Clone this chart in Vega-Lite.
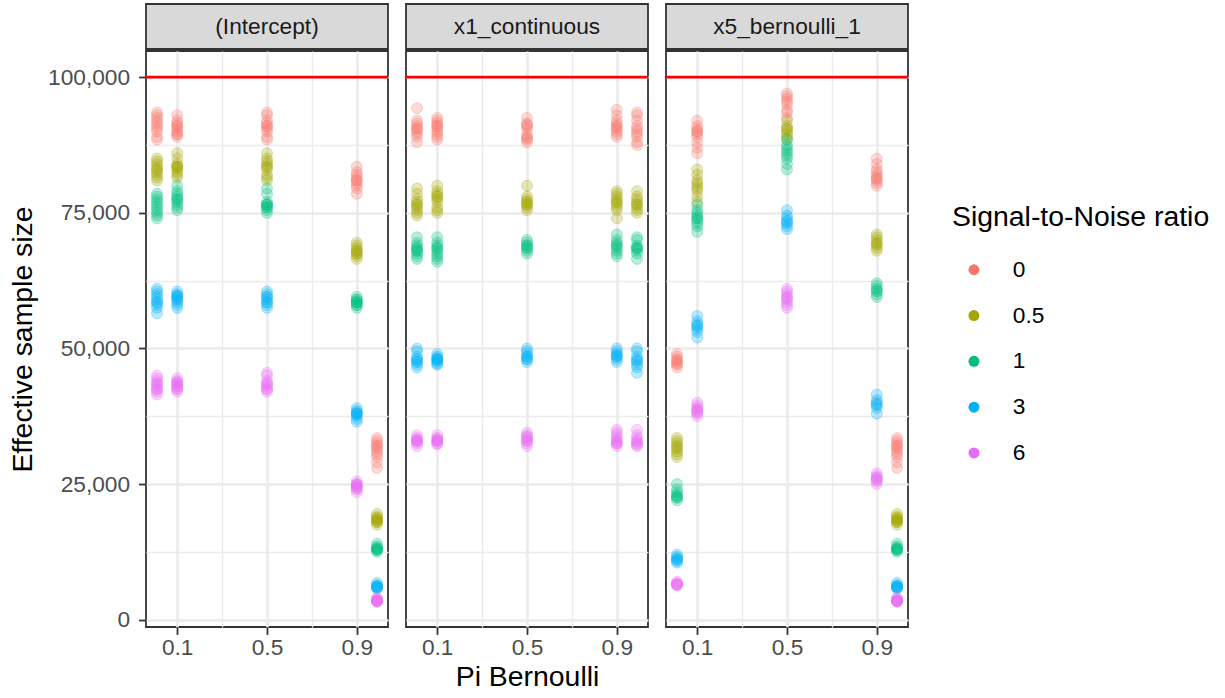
{
  "$schema": "https://vega.github.io/schema/vega-lite/v6.json",
  "background": "white",
  "padding": {"left": 7, "top": 3, "right": 5, "bottom": 3},
  "config": {
    "font": "Liberation Sans",
    "view": {"stroke": "#333333", "strokeWidth": 1.8},
    "axis": {
      "domain": false,
      "gridColor": "#EBEBEB",
      "tickColor": "#333333",
      "tickWidth": 1.8,
      "tickSize": 7.4,
      "labelFont": "Liberation Sans",
      "labelFontSize": 22.7,
      "labelColor": "#4D4D4D",
      "labelOverlap": false,
      "titleFont": "Liberation Sans",
      "titleFontSize": 28.4,
      "titleFontWeight": "normal",
      "titleColor": "#000000"
    },
    "axisX": {"labelPadding": 2.5},
    "axisY": {"labelPadding": 9}
  },
  "resolve": {"scale": {"color": "shared", "stroke": "shared"}, "legend": {"color": "shared"}},
  "datasets": {
    "intercept": [
      {"pi":0.01,"snr":0,"ess":93500},{"pi":0.01,"snr":0,"ess":93000},{"pi":0.01,"snr":0,"ess":92500},{"pi":0.01,"snr":0,"ess":92000},{"pi":0.01,"snr":0,"ess":91500},{"pi":0.01,"snr":0,"ess":91000},{"pi":0.01,"snr":0,"ess":90500},{"pi":0.01,"snr":0,"ess":90000},{"pi":0.01,"snr":0,"ess":89000},{"pi":0.01,"snr":0,"ess":88500},
      {"pi":0.01,"snr":0.5,"ess":85000},{"pi":0.01,"snr":0.5,"ess":84500},{"pi":0.01,"snr":0.5,"ess":84000},{"pi":0.01,"snr":0.5,"ess":83500},{"pi":0.01,"snr":0.5,"ess":83000},{"pi":0.01,"snr":0.5,"ess":83000},{"pi":0.01,"snr":0.5,"ess":82500},{"pi":0.01,"snr":0.5,"ess":82000},{"pi":0.01,"snr":0.5,"ess":81500},{"pi":0.01,"snr":0.5,"ess":81000},
      {"pi":0.01,"snr":1,"ess":78500},{"pi":0.01,"snr":1,"ess":78000},{"pi":0.01,"snr":1,"ess":77500},{"pi":0.01,"snr":1,"ess":77000},{"pi":0.01,"snr":1,"ess":76500},{"pi":0.01,"snr":1,"ess":76000},{"pi":0.01,"snr":1,"ess":75500},{"pi":0.01,"snr":1,"ess":75000},{"pi":0.01,"snr":1,"ess":74500},{"pi":0.01,"snr":1,"ess":74000},
      {"pi":0.01,"snr":3,"ess":61000},{"pi":0.01,"snr":3,"ess":60500},{"pi":0.01,"snr":3,"ess":60000},{"pi":0.01,"snr":3,"ess":59500},{"pi":0.01,"snr":3,"ess":59000},{"pi":0.01,"snr":3,"ess":58500},{"pi":0.01,"snr":3,"ess":58500},{"pi":0.01,"snr":3,"ess":58000},{"pi":0.01,"snr":3,"ess":57500},{"pi":0.01,"snr":3,"ess":56500},
      {"pi":0.01,"snr":6,"ess":45000},{"pi":0.01,"snr":6,"ess":44500},{"pi":0.01,"snr":6,"ess":44000},{"pi":0.01,"snr":6,"ess":43500},{"pi":0.01,"snr":6,"ess":43500},{"pi":0.01,"snr":6,"ess":43000},{"pi":0.01,"snr":6,"ess":42500},{"pi":0.01,"snr":6,"ess":42500},{"pi":0.01,"snr":6,"ess":42000},{"pi":0.01,"snr":6,"ess":41500},
      {"pi":0.1,"snr":0,"ess":93000},{"pi":0.1,"snr":0,"ess":92000},{"pi":0.1,"snr":0,"ess":91500},{"pi":0.1,"snr":0,"ess":91000},{"pi":0.1,"snr":0,"ess":91000},{"pi":0.1,"snr":0,"ess":90500},{"pi":0.1,"snr":0,"ess":90000},{"pi":0.1,"snr":0,"ess":89500},{"pi":0.1,"snr":0,"ess":89500},{"pi":0.1,"snr":0,"ess":89000},
      {"pi":0.1,"snr":0.5,"ess":86000},{"pi":0.1,"snr":0.5,"ess":85000},{"pi":0.1,"snr":0.5,"ess":84000},{"pi":0.1,"snr":0.5,"ess":83500},{"pi":0.1,"snr":0.5,"ess":83500},{"pi":0.1,"snr":0.5,"ess":83500},{"pi":0.1,"snr":0.5,"ess":83000},{"pi":0.1,"snr":0.5,"ess":82500},{"pi":0.1,"snr":0.5,"ess":82000},{"pi":0.1,"snr":0.5,"ess":81500},
      {"pi":0.1,"snr":1,"ess":80000},{"pi":0.1,"snr":1,"ess":79000},{"pi":0.1,"snr":1,"ess":78500},{"pi":0.1,"snr":1,"ess":78000},{"pi":0.1,"snr":1,"ess":77500},{"pi":0.1,"snr":1,"ess":77500},{"pi":0.1,"snr":1,"ess":77000},{"pi":0.1,"snr":1,"ess":76500},{"pi":0.1,"snr":1,"ess":76000},{"pi":0.1,"snr":1,"ess":75500},
      {"pi":0.1,"snr":3,"ess":60500},{"pi":0.1,"snr":3,"ess":60000},{"pi":0.1,"snr":3,"ess":59800},{"pi":0.1,"snr":3,"ess":59500},{"pi":0.1,"snr":3,"ess":59500},{"pi":0.1,"snr":3,"ess":59000},{"pi":0.1,"snr":3,"ess":59000},{"pi":0.1,"snr":3,"ess":58500},{"pi":0.1,"snr":3,"ess":58000},{"pi":0.1,"snr":3,"ess":57500},
      {"pi":0.1,"snr":6,"ess":44500},{"pi":0.1,"snr":6,"ess":44000},{"pi":0.1,"snr":6,"ess":43800},{"pi":0.1,"snr":6,"ess":43500},{"pi":0.1,"snr":6,"ess":43500},{"pi":0.1,"snr":6,"ess":43000},{"pi":0.1,"snr":6,"ess":43000},{"pi":0.1,"snr":6,"ess":42500},{"pi":0.1,"snr":6,"ess":42500},{"pi":0.1,"snr":6,"ess":42000},
      {"pi":0.5,"snr":0,"ess":93500},{"pi":0.5,"snr":0,"ess":93000},{"pi":0.5,"snr":0,"ess":92000},{"pi":0.5,"snr":0,"ess":91500},{"pi":0.5,"snr":0,"ess":91000},{"pi":0.5,"snr":0,"ess":91000},{"pi":0.5,"snr":0,"ess":90500},{"pi":0.5,"snr":0,"ess":90000},{"pi":0.5,"snr":0,"ess":89000},{"pi":0.5,"snr":0,"ess":88500},
      {"pi":0.5,"snr":0.5,"ess":86000},{"pi":0.5,"snr":0.5,"ess":85000},{"pi":0.5,"snr":0.5,"ess":84500},{"pi":0.5,"snr":0.5,"ess":84000},{"pi":0.5,"snr":0.5,"ess":83500},{"pi":0.5,"snr":0.5,"ess":83500},{"pi":0.5,"snr":0.5,"ess":83000},{"pi":0.5,"snr":0.5,"ess":82000},{"pi":0.5,"snr":0.5,"ess":81500},{"pi":0.5,"snr":0.5,"ess":81000},
      {"pi":0.5,"snr":1,"ess":79500},{"pi":0.5,"snr":1,"ess":78500},{"pi":0.5,"snr":1,"ess":77000},{"pi":0.5,"snr":1,"ess":76500},{"pi":0.5,"snr":1,"ess":76500},{"pi":0.5,"snr":1,"ess":76500},{"pi":0.5,"snr":1,"ess":76000},{"pi":0.5,"snr":1,"ess":76000},{"pi":0.5,"snr":1,"ess":75500},{"pi":0.5,"snr":1,"ess":75000},
      {"pi":0.5,"snr":3,"ess":60500},{"pi":0.5,"snr":3,"ess":60000},{"pi":0.5,"snr":3,"ess":59500},{"pi":0.5,"snr":3,"ess":59500},{"pi":0.5,"snr":3,"ess":59000},{"pi":0.5,"snr":3,"ess":58500},{"pi":0.5,"snr":3,"ess":58500},{"pi":0.5,"snr":3,"ess":58000},{"pi":0.5,"snr":3,"ess":57500},
      {"pi":0.5,"snr":6,"ess":45500},{"pi":0.5,"snr":6,"ess":45000},{"pi":0.5,"snr":6,"ess":44000},{"pi":0.5,"snr":6,"ess":43500},{"pi":0.5,"snr":6,"ess":43500},{"pi":0.5,"snr":6,"ess":43000},{"pi":0.5,"snr":6,"ess":42500},{"pi":0.5,"snr":6,"ess":42500},{"pi":0.5,"snr":6,"ess":42000},
      {"pi":0.9,"snr":0,"ess":83500},{"pi":0.9,"snr":0,"ess":82500},{"pi":0.9,"snr":0,"ess":82000},{"pi":0.9,"snr":0,"ess":81500},{"pi":0.9,"snr":0,"ess":81000},{"pi":0.9,"snr":0,"ess":81000},{"pi":0.9,"snr":0,"ess":80500},{"pi":0.9,"snr":0,"ess":80000},{"pi":0.9,"snr":0,"ess":79500},{"pi":0.9,"snr":0,"ess":78500},
      {"pi":0.9,"snr":0.5,"ess":69500},{"pi":0.9,"snr":0.5,"ess":69000},{"pi":0.9,"snr":0.5,"ess":68500},{"pi":0.9,"snr":0.5,"ess":68000},{"pi":0.9,"snr":0.5,"ess":68000},{"pi":0.9,"snr":0.5,"ess":67500},{"pi":0.9,"snr":0.5,"ess":67500},{"pi":0.9,"snr":0.5,"ess":67000},{"pi":0.9,"snr":0.5,"ess":66500},
      {"pi":0.9,"snr":1,"ess":59500},{"pi":0.9,"snr":1,"ess":59000},{"pi":0.9,"snr":1,"ess":59000},{"pi":0.9,"snr":1,"ess":58500},{"pi":0.9,"snr":1,"ess":58500},{"pi":0.9,"snr":1,"ess":58500},{"pi":0.9,"snr":1,"ess":58000},{"pi":0.9,"snr":1,"ess":58000},{"pi":0.9,"snr":1,"ess":57500},
      {"pi":0.9,"snr":3,"ess":39000},{"pi":0.9,"snr":3,"ess":38500},{"pi":0.9,"snr":3,"ess":38200},{"pi":0.9,"snr":3,"ess":38000},{"pi":0.9,"snr":3,"ess":38000},{"pi":0.9,"snr":3,"ess":37800},{"pi":0.9,"snr":3,"ess":37500},{"pi":0.9,"snr":3,"ess":37000},{"pi":0.9,"snr":3,"ess":36500},
      {"pi":0.9,"snr":6,"ess":25500},{"pi":0.9,"snr":6,"ess":25000},{"pi":0.9,"snr":6,"ess":25000},{"pi":0.9,"snr":6,"ess":24800},{"pi":0.9,"snr":6,"ess":24500},{"pi":0.9,"snr":6,"ess":24500},{"pi":0.9,"snr":6,"ess":24200},{"pi":0.9,"snr":6,"ess":24000},{"pi":0.9,"snr":6,"ess":23500},
      {"pi":0.99,"snr":0,"ess":33500},{"pi":0.99,"snr":0,"ess":33000},{"pi":0.99,"snr":0,"ess":32500},{"pi":0.99,"snr":0,"ess":32000},{"pi":0.99,"snr":0,"ess":32000},{"pi":0.99,"snr":0,"ess":31500},{"pi":0.99,"snr":0,"ess":31000},{"pi":0.99,"snr":0,"ess":30500},{"pi":0.99,"snr":0,"ess":30000},{"pi":0.99,"snr":0,"ess":29000},{"pi":0.99,"snr":0,"ess":28000},
      {"pi":0.99,"snr":0.5,"ess":19500},{"pi":0.99,"snr":0.5,"ess":19000},{"pi":0.99,"snr":0.5,"ess":18800},{"pi":0.99,"snr":0.5,"ess":18500},{"pi":0.99,"snr":0.5,"ess":18500},{"pi":0.99,"snr":0.5,"ess":18200},{"pi":0.99,"snr":0.5,"ess":18000},{"pi":0.99,"snr":0.5,"ess":18000},{"pi":0.99,"snr":0.5,"ess":17500},
      {"pi":0.99,"snr":1,"ess":14000},{"pi":0.99,"snr":1,"ess":13500},{"pi":0.99,"snr":1,"ess":13300},{"pi":0.99,"snr":1,"ess":13000},{"pi":0.99,"snr":1,"ess":13000},{"pi":0.99,"snr":1,"ess":13000},{"pi":0.99,"snr":1,"ess":12800},{"pi":0.99,"snr":1,"ess":12500},
      {"pi":0.99,"snr":3,"ess":6800},{"pi":0.99,"snr":3,"ess":6400},{"pi":0.99,"snr":3,"ess":6200},{"pi":0.99,"snr":3,"ess":6100},{"pi":0.99,"snr":3,"ess":6000},{"pi":0.99,"snr":3,"ess":6000},{"pi":0.99,"snr":3,"ess":5900},{"pi":0.99,"snr":3,"ess":5700},
      {"pi":0.99,"snr":6,"ess":4000},{"pi":0.99,"snr":6,"ess":3800},{"pi":0.99,"snr":6,"ess":3600},{"pi":0.99,"snr":6,"ess":3500},{"pi":0.99,"snr":6,"ess":3500},{"pi":0.99,"snr":6,"ess":3400},{"pi":0.99,"snr":6,"ess":3400},{"pi":0.99,"snr":6,"ess":3300}
    ],
    "x1": [
      {"pi":0.01,"snr":0,"ess":94300},{"pi":0.01,"snr":0,"ess":92000},{"pi":0.01,"snr":0,"ess":91500},{"pi":0.01,"snr":0,"ess":91000},{"pi":0.01,"snr":0,"ess":90500},{"pi":0.01,"snr":0,"ess":90500},{"pi":0.01,"snr":0,"ess":90000},{"pi":0.01,"snr":0,"ess":89500},{"pi":0.01,"snr":0,"ess":89000},{"pi":0.01,"snr":0,"ess":88000},
      {"pi":0.01,"snr":0.5,"ess":79500},{"pi":0.01,"snr":0.5,"ess":78500},{"pi":0.01,"snr":0.5,"ess":77500},{"pi":0.01,"snr":0.5,"ess":77000},{"pi":0.01,"snr":0.5,"ess":76500},{"pi":0.01,"snr":0.5,"ess":76500},{"pi":0.01,"snr":0.5,"ess":76000},{"pi":0.01,"snr":0.5,"ess":75500},{"pi":0.01,"snr":0.5,"ess":75000},{"pi":0.01,"snr":0.5,"ess":74500},
      {"pi":0.01,"snr":1,"ess":70500},{"pi":0.01,"snr":1,"ess":69500},{"pi":0.01,"snr":1,"ess":69000},{"pi":0.01,"snr":1,"ess":68500},{"pi":0.01,"snr":1,"ess":68500},{"pi":0.01,"snr":1,"ess":68000},{"pi":0.01,"snr":1,"ess":68000},{"pi":0.01,"snr":1,"ess":67500},{"pi":0.01,"snr":1,"ess":67000},{"pi":0.01,"snr":1,"ess":66500},
      {"pi":0.01,"snr":3,"ess":50000},{"pi":0.01,"snr":3,"ess":49500},{"pi":0.01,"snr":3,"ess":48500},{"pi":0.01,"snr":3,"ess":48000},{"pi":0.01,"snr":3,"ess":48000},{"pi":0.01,"snr":3,"ess":47500},{"pi":0.01,"snr":3,"ess":47500},{"pi":0.01,"snr":3,"ess":47000},{"pi":0.01,"snr":3,"ess":46500},
      {"pi":0.01,"snr":6,"ess":34000},{"pi":0.01,"snr":6,"ess":33500},{"pi":0.01,"snr":6,"ess":33200},{"pi":0.01,"snr":6,"ess":33000},{"pi":0.01,"snr":6,"ess":33000},{"pi":0.01,"snr":6,"ess":32800},{"pi":0.01,"snr":6,"ess":32500},{"pi":0.01,"snr":6,"ess":32000},
      {"pi":0.1,"snr":0,"ess":92500},{"pi":0.1,"snr":0,"ess":92000},{"pi":0.1,"snr":0,"ess":91500},{"pi":0.1,"snr":0,"ess":91000},{"pi":0.1,"snr":0,"ess":91000},{"pi":0.1,"snr":0,"ess":90500},{"pi":0.1,"snr":0,"ess":90000},{"pi":0.1,"snr":0,"ess":89500},{"pi":0.1,"snr":0,"ess":89000},{"pi":0.1,"snr":0,"ess":88500},
      {"pi":0.1,"snr":0.5,"ess":80000},{"pi":0.1,"snr":0.5,"ess":79000},{"pi":0.1,"snr":0.5,"ess":78500},{"pi":0.1,"snr":0.5,"ess":78000},{"pi":0.1,"snr":0.5,"ess":78000},{"pi":0.1,"snr":0.5,"ess":77500},{"pi":0.1,"snr":0.5,"ess":77000},{"pi":0.1,"snr":0.5,"ess":76000},{"pi":0.1,"snr":0.5,"ess":75500},{"pi":0.1,"snr":0.5,"ess":75000},
      {"pi":0.1,"snr":1,"ess":70500},{"pi":0.1,"snr":1,"ess":69500},{"pi":0.1,"snr":1,"ess":69000},{"pi":0.1,"snr":1,"ess":68500},{"pi":0.1,"snr":1,"ess":68500},{"pi":0.1,"snr":1,"ess":68000},{"pi":0.1,"snr":1,"ess":67500},{"pi":0.1,"snr":1,"ess":67000},{"pi":0.1,"snr":1,"ess":66500},{"pi":0.1,"snr":1,"ess":66000},
      {"pi":0.1,"snr":3,"ess":49000},{"pi":0.1,"snr":3,"ess":48500},{"pi":0.1,"snr":3,"ess":48200},{"pi":0.1,"snr":3,"ess":48000},{"pi":0.1,"snr":3,"ess":48000},{"pi":0.1,"snr":3,"ess":47800},{"pi":0.1,"snr":3,"ess":47500},{"pi":0.1,"snr":3,"ess":47200},{"pi":0.1,"snr":3,"ess":47000},
      {"pi":0.1,"snr":6,"ess":34000},{"pi":0.1,"snr":6,"ess":33500},{"pi":0.1,"snr":6,"ess":33300},{"pi":0.1,"snr":6,"ess":33000},{"pi":0.1,"snr":6,"ess":33000},{"pi":0.1,"snr":6,"ess":32800},{"pi":0.1,"snr":6,"ess":32500},{"pi":0.1,"snr":6,"ess":32300},
      {"pi":0.5,"snr":0,"ess":92500},{"pi":0.5,"snr":0,"ess":91500},{"pi":0.5,"snr":0,"ess":91200},{"pi":0.5,"snr":0,"ess":91000},{"pi":0.5,"snr":0,"ess":90500},{"pi":0.5,"snr":0,"ess":89500},{"pi":0.5,"snr":0,"ess":89000},{"pi":0.5,"snr":0,"ess":88800},{"pi":0.5,"snr":0,"ess":88500},{"pi":0.5,"snr":0,"ess":88000},
      {"pi":0.5,"snr":0.5,"ess":80000},{"pi":0.5,"snr":0.5,"ess":78000},{"pi":0.5,"snr":0.5,"ess":77500},{"pi":0.5,"snr":0.5,"ess":77000},{"pi":0.5,"snr":0.5,"ess":77000},{"pi":0.5,"snr":0.5,"ess":76500},{"pi":0.5,"snr":0.5,"ess":76500},{"pi":0.5,"snr":0.5,"ess":76000},{"pi":0.5,"snr":0.5,"ess":75500},
      {"pi":0.5,"snr":1,"ess":70000},{"pi":0.5,"snr":1,"ess":69500},{"pi":0.5,"snr":1,"ess":69000},{"pi":0.5,"snr":1,"ess":69000},{"pi":0.5,"snr":1,"ess":68500},{"pi":0.5,"snr":1,"ess":68500},{"pi":0.5,"snr":1,"ess":68000},{"pi":0.5,"snr":1,"ess":67500},
      {"pi":0.5,"snr":3,"ess":50000},{"pi":0.5,"snr":3,"ess":49500},{"pi":0.5,"snr":3,"ess":49000},{"pi":0.5,"snr":3,"ess":48500},{"pi":0.5,"snr":3,"ess":48500},{"pi":0.5,"snr":3,"ess":48000},{"pi":0.5,"snr":3,"ess":48000},{"pi":0.5,"snr":3,"ess":47500},
      {"pi":0.5,"snr":6,"ess":34500},{"pi":0.5,"snr":6,"ess":34000},{"pi":0.5,"snr":6,"ess":33700},{"pi":0.5,"snr":6,"ess":33500},{"pi":0.5,"snr":6,"ess":33000},{"pi":0.5,"snr":6,"ess":33000},{"pi":0.5,"snr":6,"ess":32500},{"pi":0.5,"snr":6,"ess":32000},
      {"pi":0.9,"snr":0,"ess":94000},{"pi":0.9,"snr":0,"ess":93000},{"pi":0.9,"snr":0,"ess":92000},{"pi":0.9,"snr":0,"ess":91500},{"pi":0.9,"snr":0,"ess":91000},{"pi":0.9,"snr":0,"ess":90800},{"pi":0.9,"snr":0,"ess":90500},{"pi":0.9,"snr":0,"ess":90000},{"pi":0.9,"snr":0,"ess":89500},{"pi":0.9,"snr":0,"ess":89000},
      {"pi":0.9,"snr":0.5,"ess":79000},{"pi":0.9,"snr":0.5,"ess":78500},{"pi":0.9,"snr":0.5,"ess":78000},{"pi":0.9,"snr":0.5,"ess":77500},{"pi":0.9,"snr":0.5,"ess":77000},{"pi":0.9,"snr":0.5,"ess":77000},{"pi":0.9,"snr":0.5,"ess":76500},{"pi":0.9,"snr":0.5,"ess":76000},{"pi":0.9,"snr":0.5,"ess":75500},{"pi":0.9,"snr":0.5,"ess":74000},
      {"pi":0.9,"snr":1,"ess":71000},{"pi":0.9,"snr":1,"ess":70000},{"pi":0.9,"snr":1,"ess":69500},{"pi":0.9,"snr":1,"ess":69000},{"pi":0.9,"snr":1,"ess":69000},{"pi":0.9,"snr":1,"ess":68500},{"pi":0.9,"snr":1,"ess":68000},{"pi":0.9,"snr":1,"ess":67500},{"pi":0.9,"snr":1,"ess":67000},
      {"pi":0.9,"snr":3,"ess":50000},{"pi":0.9,"snr":3,"ess":49500},{"pi":0.9,"snr":3,"ess":49000},{"pi":0.9,"snr":3,"ess":48800},{"pi":0.9,"snr":3,"ess":48500},{"pi":0.9,"snr":3,"ess":48500},{"pi":0.9,"snr":3,"ess":48000},{"pi":0.9,"snr":3,"ess":47500},
      {"pi":0.9,"snr":6,"ess":35000},{"pi":0.9,"snr":6,"ess":34500},{"pi":0.9,"snr":6,"ess":34000},{"pi":0.9,"snr":6,"ess":33500},{"pi":0.9,"snr":6,"ess":33000},{"pi":0.9,"snr":6,"ess":32800},{"pi":0.9,"snr":6,"ess":32500},{"pi":0.9,"snr":6,"ess":32500},{"pi":0.9,"snr":6,"ess":32000},
      {"pi":0.99,"snr":0,"ess":93500},{"pi":0.99,"snr":0,"ess":93000},{"pi":0.99,"snr":0,"ess":92000},{"pi":0.99,"snr":0,"ess":91000},{"pi":0.99,"snr":0,"ess":90500},{"pi":0.99,"snr":0,"ess":90000},{"pi":0.99,"snr":0,"ess":89500},{"pi":0.99,"snr":0,"ess":89000},{"pi":0.99,"snr":0,"ess":88000},{"pi":0.99,"snr":0,"ess":87500},
      {"pi":0.99,"snr":0.5,"ess":79000},{"pi":0.99,"snr":0.5,"ess":78000},{"pi":0.99,"snr":0.5,"ess":77500},{"pi":0.99,"snr":0.5,"ess":77000},{"pi":0.99,"snr":0.5,"ess":76500},{"pi":0.99,"snr":0.5,"ess":76500},{"pi":0.99,"snr":0.5,"ess":76000},{"pi":0.99,"snr":0.5,"ess":75500},{"pi":0.99,"snr":0.5,"ess":75000},
      {"pi":0.99,"snr":1,"ess":70500},{"pi":0.99,"snr":1,"ess":70000},{"pi":0.99,"snr":1,"ess":69000},{"pi":0.99,"snr":1,"ess":68500},{"pi":0.99,"snr":1,"ess":68500},{"pi":0.99,"snr":1,"ess":68500},{"pi":0.99,"snr":1,"ess":68000},{"pi":0.99,"snr":1,"ess":67500},{"pi":0.99,"snr":1,"ess":66500},
      {"pi":0.99,"snr":3,"ess":50000},{"pi":0.99,"snr":3,"ess":49500},{"pi":0.99,"snr":3,"ess":48500},{"pi":0.99,"snr":3,"ess":48000},{"pi":0.99,"snr":3,"ess":47800},{"pi":0.99,"snr":3,"ess":47500},{"pi":0.99,"snr":3,"ess":47000},{"pi":0.99,"snr":3,"ess":46500},{"pi":0.99,"snr":3,"ess":45500},
      {"pi":0.99,"snr":6,"ess":35000},{"pi":0.99,"snr":6,"ess":34000},{"pi":0.99,"snr":6,"ess":33500},{"pi":0.99,"snr":6,"ess":33000},{"pi":0.99,"snr":6,"ess":32800},{"pi":0.99,"snr":6,"ess":32500},{"pi":0.99,"snr":6,"ess":32200},{"pi":0.99,"snr":6,"ess":32000}
    ],
    "x5": [
      {"pi":0.01,"snr":0,"ess":49000},{"pi":0.01,"snr":0,"ess":48500},{"pi":0.01,"snr":0,"ess":48000},{"pi":0.01,"snr":0,"ess":47800},{"pi":0.01,"snr":0,"ess":47500},{"pi":0.01,"snr":0,"ess":47200},{"pi":0.01,"snr":0,"ess":47000},{"pi":0.01,"snr":0,"ess":46500},
      {"pi":0.01,"snr":0.5,"ess":33500},{"pi":0.01,"snr":0.5,"ess":33000},{"pi":0.01,"snr":0.5,"ess":32500},{"pi":0.01,"snr":0.5,"ess":32000},{"pi":0.01,"snr":0.5,"ess":31800},{"pi":0.01,"snr":0.5,"ess":31500},{"pi":0.01,"snr":0.5,"ess":31000},{"pi":0.01,"snr":0.5,"ess":30500},{"pi":0.01,"snr":0.5,"ess":30000},
      {"pi":0.01,"snr":1,"ess":25000},{"pi":0.01,"snr":1,"ess":24000},{"pi":0.01,"snr":1,"ess":23500},{"pi":0.01,"snr":1,"ess":23000},{"pi":0.01,"snr":1,"ess":22800},{"pi":0.01,"snr":1,"ess":22500},{"pi":0.01,"snr":1,"ess":22500},{"pi":0.01,"snr":1,"ess":22000},
      {"pi":0.01,"snr":3,"ess":12000},{"pi":0.01,"snr":3,"ess":11600},{"pi":0.01,"snr":3,"ess":11300},{"pi":0.01,"snr":3,"ess":11200},{"pi":0.01,"snr":3,"ess":11000},{"pi":0.01,"snr":3,"ess":10800},{"pi":0.01,"snr":3,"ess":10500},
      {"pi":0.01,"snr":6,"ess":7000},{"pi":0.01,"snr":6,"ess":6700},{"pi":0.01,"snr":6,"ess":6600},{"pi":0.01,"snr":6,"ess":6500},{"pi":0.01,"snr":6,"ess":6400},{"pi":0.01,"snr":6,"ess":6300},
      {"pi":0.1,"snr":0,"ess":92000},{"pi":0.1,"snr":0,"ess":91000},{"pi":0.1,"snr":0,"ess":90500},{"pi":0.1,"snr":0,"ess":90000},{"pi":0.1,"snr":0,"ess":90000},{"pi":0.1,"snr":0,"ess":89500},{"pi":0.1,"snr":0,"ess":89000},{"pi":0.1,"snr":0,"ess":88000},{"pi":0.1,"snr":0,"ess":87000},{"pi":0.1,"snr":0,"ess":86000},
      {"pi":0.1,"snr":0.5,"ess":83000},{"pi":0.1,"snr":0.5,"ess":82000},{"pi":0.1,"snr":0.5,"ess":81000},{"pi":0.1,"snr":0.5,"ess":80500},{"pi":0.1,"snr":0.5,"ess":80000},{"pi":0.1,"snr":0.5,"ess":79500},{"pi":0.1,"snr":0.5,"ess":79000},{"pi":0.1,"snr":0.5,"ess":78000},{"pi":0.1,"snr":0.5,"ess":77000},
      {"pi":0.1,"snr":1,"ess":76500},{"pi":0.1,"snr":1,"ess":75500},{"pi":0.1,"snr":1,"ess":75000},{"pi":0.1,"snr":1,"ess":74500},{"pi":0.1,"snr":1,"ess":74000},{"pi":0.1,"snr":1,"ess":74000},{"pi":0.1,"snr":1,"ess":73500},{"pi":0.1,"snr":1,"ess":73000},{"pi":0.1,"snr":1,"ess":72500},{"pi":0.1,"snr":1,"ess":71500},
      {"pi":0.1,"snr":3,"ess":56000},{"pi":0.1,"snr":3,"ess":55000},{"pi":0.1,"snr":3,"ess":54500},{"pi":0.1,"snr":3,"ess":54200},{"pi":0.1,"snr":3,"ess":54000},{"pi":0.1,"snr":3,"ess":53500},{"pi":0.1,"snr":3,"ess":53000},{"pi":0.1,"snr":3,"ess":52000},
      {"pi":0.1,"snr":6,"ess":40000},{"pi":0.1,"snr":6,"ess":39500},{"pi":0.1,"snr":6,"ess":39000},{"pi":0.1,"snr":6,"ess":38800},{"pi":0.1,"snr":6,"ess":38500},{"pi":0.1,"snr":6,"ess":38300},{"pi":0.1,"snr":6,"ess":38000},{"pi":0.1,"snr":6,"ess":37500},
      {"pi":0.5,"snr":0,"ess":97000},{"pi":0.5,"snr":0,"ess":96500},{"pi":0.5,"snr":0,"ess":96000},{"pi":0.5,"snr":0,"ess":95500},{"pi":0.5,"snr":0,"ess":95000},{"pi":0.5,"snr":0,"ess":94000},{"pi":0.5,"snr":0,"ess":93500},{"pi":0.5,"snr":0,"ess":92500},
      {"pi":0.5,"snr":0.5,"ess":92000},{"pi":0.5,"snr":0.5,"ess":91000},{"pi":0.5,"snr":0.5,"ess":90500},{"pi":0.5,"snr":0.5,"ess":90500},{"pi":0.5,"snr":0.5,"ess":90000},{"pi":0.5,"snr":0.5,"ess":89500},{"pi":0.5,"snr":0.5,"ess":89000},{"pi":0.5,"snr":0.5,"ess":88500},
      {"pi":0.5,"snr":1,"ess":88500},{"pi":0.5,"snr":1,"ess":87500},{"pi":0.5,"snr":1,"ess":87000},{"pi":0.5,"snr":1,"ess":86500},{"pi":0.5,"snr":1,"ess":86000},{"pi":0.5,"snr":1,"ess":85500},{"pi":0.5,"snr":1,"ess":85000},{"pi":0.5,"snr":1,"ess":84000},{"pi":0.5,"snr":1,"ess":83000},
      {"pi":0.5,"snr":3,"ess":75500},{"pi":0.5,"snr":3,"ess":74500},{"pi":0.5,"snr":3,"ess":74000},{"pi":0.5,"snr":3,"ess":73500},{"pi":0.5,"snr":3,"ess":73300},{"pi":0.5,"snr":3,"ess":73000},{"pi":0.5,"snr":3,"ess":72500},{"pi":0.5,"snr":3,"ess":72000},
      {"pi":0.5,"snr":6,"ess":61000},{"pi":0.5,"snr":6,"ess":60500},{"pi":0.5,"snr":6,"ess":60000},{"pi":0.5,"snr":6,"ess":59500},{"pi":0.5,"snr":6,"ess":59300},{"pi":0.5,"snr":6,"ess":59000},{"pi":0.5,"snr":6,"ess":58500},{"pi":0.5,"snr":6,"ess":58000},{"pi":0.5,"snr":6,"ess":57500},
      {"pi":0.9,"snr":0,"ess":85000},{"pi":0.9,"snr":0,"ess":84000},{"pi":0.9,"snr":0,"ess":83000},{"pi":0.9,"snr":0,"ess":82500},{"pi":0.9,"snr":0,"ess":82000},{"pi":0.9,"snr":0,"ess":81500},{"pi":0.9,"snr":0,"ess":81300},{"pi":0.9,"snr":0,"ess":81000},{"pi":0.9,"snr":0,"ess":80500},{"pi":0.9,"snr":0,"ess":80000},
      {"pi":0.9,"snr":0.5,"ess":71000},{"pi":0.9,"snr":0.5,"ess":70500},{"pi":0.9,"snr":0.5,"ess":70000},{"pi":0.9,"snr":0.5,"ess":69500},{"pi":0.9,"snr":0.5,"ess":69300},{"pi":0.9,"snr":0.5,"ess":69000},{"pi":0.9,"snr":0.5,"ess":68500},{"pi":0.9,"snr":0.5,"ess":68000},
      {"pi":0.9,"snr":1,"ess":62000},{"pi":0.9,"snr":1,"ess":61500},{"pi":0.9,"snr":1,"ess":61000},{"pi":0.9,"snr":1,"ess":60700},{"pi":0.9,"snr":1,"ess":60500},{"pi":0.9,"snr":1,"ess":60000},{"pi":0.9,"snr":1,"ess":59500},
      {"pi":0.9,"snr":3,"ess":41500},{"pi":0.9,"snr":3,"ess":40500},{"pi":0.9,"snr":3,"ess":40000},{"pi":0.9,"snr":3,"ess":39700},{"pi":0.9,"snr":3,"ess":39500},{"pi":0.9,"snr":3,"ess":39000},{"pi":0.9,"snr":3,"ess":38000},
      {"pi":0.9,"snr":6,"ess":27000},{"pi":0.9,"snr":6,"ess":26500},{"pi":0.9,"snr":6,"ess":26200},{"pi":0.9,"snr":6,"ess":26000},{"pi":0.9,"snr":6,"ess":25800},{"pi":0.9,"snr":6,"ess":25500},{"pi":0.9,"snr":6,"ess":25000},
      {"pi":0.99,"snr":0,"ess":33500},{"pi":0.99,"snr":0,"ess":33000},{"pi":0.99,"snr":0,"ess":32500},{"pi":0.99,"snr":0,"ess":32000},{"pi":0.99,"snr":0,"ess":32000},{"pi":0.99,"snr":0,"ess":31500},{"pi":0.99,"snr":0,"ess":31000},{"pi":0.99,"snr":0,"ess":30500},{"pi":0.99,"snr":0,"ess":30000},{"pi":0.99,"snr":0,"ess":29000},{"pi":0.99,"snr":0,"ess":28000},
      {"pi":0.99,"snr":0.5,"ess":19500},{"pi":0.99,"snr":0.5,"ess":19000},{"pi":0.99,"snr":0.5,"ess":18800},{"pi":0.99,"snr":0.5,"ess":18500},{"pi":0.99,"snr":0.5,"ess":18500},{"pi":0.99,"snr":0.5,"ess":18200},{"pi":0.99,"snr":0.5,"ess":18000},{"pi":0.99,"snr":0.5,"ess":18000},{"pi":0.99,"snr":0.5,"ess":17500},
      {"pi":0.99,"snr":1,"ess":14000},{"pi":0.99,"snr":1,"ess":13500},{"pi":0.99,"snr":1,"ess":13300},{"pi":0.99,"snr":1,"ess":13000},{"pi":0.99,"snr":1,"ess":13000},{"pi":0.99,"snr":1,"ess":13000},{"pi":0.99,"snr":1,"ess":12800},{"pi":0.99,"snr":1,"ess":12500},
      {"pi":0.99,"snr":3,"ess":6800},{"pi":0.99,"snr":3,"ess":6400},{"pi":0.99,"snr":3,"ess":6200},{"pi":0.99,"snr":3,"ess":6100},{"pi":0.99,"snr":3,"ess":6000},{"pi":0.99,"snr":3,"ess":6000},{"pi":0.99,"snr":3,"ess":5900},{"pi":0.99,"snr":3,"ess":5700},
      {"pi":0.99,"snr":6,"ess":4000},{"pi":0.99,"snr":6,"ess":3800},{"pi":0.99,"snr":6,"ess":3600},{"pi":0.99,"snr":6,"ess":3500},{"pi":0.99,"snr":6,"ess":3500},{"pi":0.99,"snr":6,"ess":3400},{"pi":0.99,"snr":6,"ess":3400},{"pi":0.99,"snr":6,"ess":3300}
    ]
  },
  "spacing": 12,
  "hconcat": [
    {
      "spacing": 0,
      "vconcat": [
        {
          "width": 242, "height": 45,
          "data": {"values": [{"label": "(Intercept)"}]},
          "view": {"fill": "#D9D9D9", "stroke": "#333333", "strokeWidth": 1.8},
          "mark": {"type": "text", "fontSize": 22.7, "color": "#1A1A1A", "font": "Liberation Sans"},
          "encoding": {"text": {"field": "label", "type": "nominal"}}
        },
        {
          "width": 242, "height": 576,
          "data": {"name": "intercept"},
          "layer": [
            {
              "mark": {"type": "point", "shape": "circle", "filled": true, "size": 120, "fillOpacity": 0.27, "strokeOpacity": 0.3, "strokeWidth": 1},
              "encoding": {
                "x": {"field": "pi", "type": "quantitative", "scale": {"domain": [-0.039, 1.039], "nice": false, "zero": false},
                  "axis": {"title": null, "values": [0.1, 0.3, 0.5, 0.7, 0.9], "labelExpr": "(abs(datum.value-0.3)<0.001 || abs(datum.value-0.7)<0.001) ? '' : datum.label",
                    "tickOpacity": {"condition": {"test": "abs(datum.value-0.3)<0.001 || abs(datum.value-0.7)<0.001", "value": 0}, "value": 1},
                    "gridWidth": {"condition": {"test": "abs(datum.value-0.3)<0.001 || abs(datum.value-0.7)<0.001", "value": 1.3}, "value": 2.6}}},
                "y": {"field": "ess", "type": "quantitative", "scale": {"domain": [-1350, 104830], "nice": false, "zero": false},
                  "axis": {"title": "Effective sample size", "titlePadding": 10, "values": [0, 12500, 25000, 37500, 50000, 62500, 75000, 87500, 100000],
                    "labelExpr": "datum.value % 25000 === 0 ? format(datum.value, ',') : ''",
                    "tickOpacity": {"condition": {"test": "datum.value % 25000 !== 0", "value": 0}, "value": 1},
                    "gridWidth": {"condition": {"test": "datum.value % 25000 !== 0", "value": 1.3}, "value": 2.6}}},
                "color": {"field": "snr", "type": "nominal", "scale": {"domain": [0, 0.5, 1, 3, 6], "range": ["#F8766D", "#A3A500", "#00BF7D", "#00B0F6", "#E76BF3"]},
                  "legend": {"orient": "none", "legendX": 806, "legendY": 200, "padding": 0, "title": "Signal-to-Noise ratio", "titleLimit": 500,
                    "titleFont": "Liberation Sans", "titleFontSize": 28.4, "titleFontWeight": "normal", "titleColor": "#000000", "titlePadding": 26,
                    "labelFont": "Liberation Sans", "labelFontSize": 22.7, "labelColor": "#000000", "labelOffset": 27.5,
                    "symbolType": "circle", "symbolSize": 120, "symbolOpacity": 1, "symbolStrokeWidth": 0, "symbolOffset": 10.6, "rowPadding": 21.8}},
                "stroke": {"field": "snr", "type": "nominal", "scale": {"domain": [0, 0.5, 1, 3, 6], "range": ["#F8766D", "#A3A500", "#00BF7D", "#00B0F6", "#E76BF3"]}, "legend": null}
              }
            },
            {
              "data": {"values": [{"reference": 100000}]},
              "mark": {"type": "rule", "color": "#FF0000", "strokeWidth": 2.8},
              "encoding": {"y": {"field": "reference", "type": "quantitative", "title": "Effective sample size"}}
            }
          ]
        }
      ]
    },
    {
      "spacing": 0,
      "vconcat": [
        {
          "width": 242, "height": 45,
          "data": {"values": [{"label": "x1_continuous"}]},
          "view": {"fill": "#D9D9D9", "stroke": "#333333", "strokeWidth": 1.8},
          "mark": {"type": "text", "fontSize": 22.7, "color": "#1A1A1A", "font": "Liberation Sans"},
          "encoding": {"text": {"field": "label", "type": "nominal"}}
        },
        {
          "width": 242, "height": 576,
          "data": {"name": "x1"},
          "layer": [
            {
              "mark": {"type": "point", "shape": "circle", "filled": true, "size": 120, "fillOpacity": 0.27, "strokeOpacity": 0.3, "strokeWidth": 1},
              "encoding": {
                "x": {"field": "pi", "type": "quantitative", "scale": {"domain": [-0.039, 1.039], "nice": false, "zero": false},
                  "axis": {"title": "Pi Bernoulli", "titlePadding": 4, "values": [0.1, 0.3, 0.5, 0.7, 0.9], "labelExpr": "(abs(datum.value-0.3)<0.001 || abs(datum.value-0.7)<0.001) ? '' : datum.label",
                    "tickOpacity": {"condition": {"test": "abs(datum.value-0.3)<0.001 || abs(datum.value-0.7)<0.001", "value": 0}, "value": 1},
                    "gridWidth": {"condition": {"test": "abs(datum.value-0.3)<0.001 || abs(datum.value-0.7)<0.001", "value": 1.3}, "value": 2.6}}},
                "y": {"field": "ess", "type": "quantitative", "scale": {"domain": [-1350, 104830], "nice": false, "zero": false},
                  "axis": {"title": null, "labels": false, "ticks": false, "values": [0, 12500, 25000, 37500, 50000, 62500, 75000, 87500, 100000],
                    "gridWidth": {"condition": {"test": "datum.value % 25000 !== 0", "value": 1.3}, "value": 2.6}}},
                "color": {"field": "snr", "type": "nominal", "scale": {"domain": [0, 0.5, 1, 3, 6], "range": ["#F8766D", "#A3A500", "#00BF7D", "#00B0F6", "#E76BF3"]}},
                "stroke": {"field": "snr", "type": "nominal", "scale": {"domain": [0, 0.5, 1, 3, 6], "range": ["#F8766D", "#A3A500", "#00BF7D", "#00B0F6", "#E76BF3"]}, "legend": null}
              }
            },
            {
              "data": {"values": [{"reference": 100000}]},
              "mark": {"type": "rule", "color": "#FF0000", "strokeWidth": 2.8},
              "encoding": {"y": {"field": "reference", "type": "quantitative", "title": null}}
            }
          ]
        }
      ]
    },
    {
      "spacing": 0,
      "vconcat": [
        {
          "width": 242, "height": 45,
          "data": {"values": [{"label": "x5_bernoulli_1"}]},
          "view": {"fill": "#D9D9D9", "stroke": "#333333", "strokeWidth": 1.8},
          "mark": {"type": "text", "fontSize": 22.7, "color": "#1A1A1A", "font": "Liberation Sans"},
          "encoding": {"text": {"field": "label", "type": "nominal"}}
        },
        {
          "width": 242, "height": 576,
          "data": {"name": "x5"},
          "layer": [
            {
              "mark": {"type": "point", "shape": "circle", "filled": true, "size": 120, "fillOpacity": 0.27, "strokeOpacity": 0.3, "strokeWidth": 1},
              "encoding": {
                "x": {"field": "pi", "type": "quantitative", "scale": {"domain": [-0.039, 1.039], "nice": false, "zero": false},
                  "axis": {"title": null, "values": [0.1, 0.3, 0.5, 0.7, 0.9], "labelExpr": "(abs(datum.value-0.3)<0.001 || abs(datum.value-0.7)<0.001) ? '' : datum.label",
                    "tickOpacity": {"condition": {"test": "abs(datum.value-0.3)<0.001 || abs(datum.value-0.7)<0.001", "value": 0}, "value": 1},
                    "gridWidth": {"condition": {"test": "abs(datum.value-0.3)<0.001 || abs(datum.value-0.7)<0.001", "value": 1.3}, "value": 2.6}}},
                "y": {"field": "ess", "type": "quantitative", "scale": {"domain": [-1350, 104830], "nice": false, "zero": false},
                  "axis": {"title": null, "labels": false, "ticks": false, "values": [0, 12500, 25000, 37500, 50000, 62500, 75000, 87500, 100000],
                    "gridWidth": {"condition": {"test": "datum.value % 25000 !== 0", "value": 1.3}, "value": 2.6}}},
                "color": {"field": "snr", "type": "nominal", "scale": {"domain": [0, 0.5, 1, 3, 6], "range": ["#F8766D", "#A3A500", "#00BF7D", "#00B0F6", "#E76BF3"]}},
                "stroke": {"field": "snr", "type": "nominal", "scale": {"domain": [0, 0.5, 1, 3, 6], "range": ["#F8766D", "#A3A500", "#00BF7D", "#00B0F6", "#E76BF3"]}, "legend": null}
              }
            },
            {
              "data": {"values": [{"reference": 100000}]},
              "mark": {"type": "rule", "color": "#FF0000", "strokeWidth": 2.8},
              "encoding": {"y": {"field": "reference", "type": "quantitative", "title": null}}
            }
          ]
        }
      ]
    }
  ]
}
